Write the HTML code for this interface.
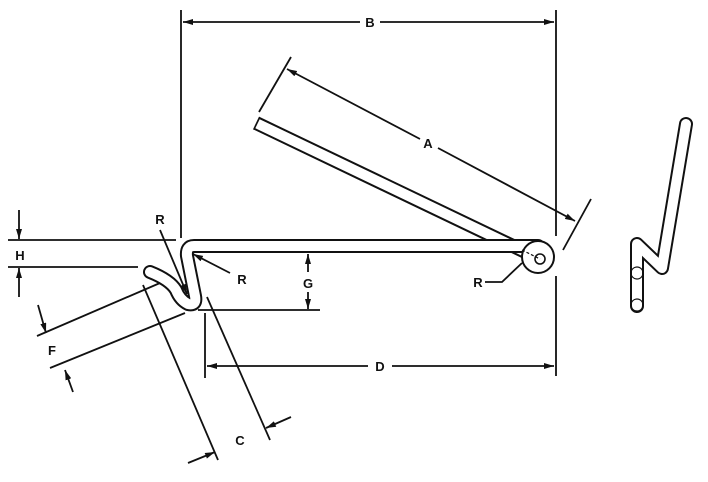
<!DOCTYPE html>
<html><head><style>
html,body{margin:0;padding:0;background:#fff;}
svg{display:block;}
text{font-family:"Liberation Sans",sans-serif;font-weight:bold;font-size:13px;fill:#111;}
</style></head><body>
<svg width="708" height="482" viewBox="0 0 708 482" xmlns="http://www.w3.org/2000/svg">
<defs>
<marker id="ar" markerWidth="10" markerHeight="6" refX="10" refY="3" orient="auto" markerUnits="userSpaceOnUse">
<path d="M0,0 L10,3 L0,6 z" fill="#111"/></marker>
</defs>
<g stroke="#111" stroke-width="1.8" fill="none">
<!-- B -->
<line x1="181" y1="10" x2="181" y2="238"/>
<line x1="556" y1="10" x2="556" y2="236"/>
<line x1="556" y1="276" x2="556" y2="376"/>
<line x1="360" y1="22" x2="183" y2="22" marker-end="url(#ar)"/>
<line x1="380" y1="22" x2="554" y2="22" marker-end="url(#ar)"/>
<!-- A -->
<line x1="291" y1="57" x2="259" y2="112"/>
<line x1="591" y1="199" x2="563" y2="250"/>
<line x1="420" y1="139" x2="287" y2="69" marker-end="url(#ar)"/>
<line x1="438" y1="148" x2="575" y2="221" marker-end="url(#ar)"/>
</g>
<g fill="none" stroke-linecap="round" stroke-linejoin="round">
<path d="M256,123 L538,258" stroke="#111" stroke-width="14" stroke-linecap="butt"/>
<path d="M257.5,123.7 L538,258" stroke="#fff" stroke-width="10" stroke-linecap="butt"/>
<path d="M538,246 H194 Q186,246 187,256 L195,296 Q197,306 188,304 Q180,300 176,290 Q170,280 150,272" stroke="#111" stroke-width="14"/>
<path d="M538,246 H194 Q186,246 187,256 L195,296 Q197,306 188,304 Q180,300 176,290 Q170,280 150,272" stroke="#fff" stroke-width="10"/>
<path d="M686,124 L662,268 L637,244 L637,306" stroke="#111" stroke-width="14"/>
<path d="M686,124 L662,268 L637,244 L637,306" stroke="#fff" stroke-width="10"/>
</g>
<circle cx="538" cy="257" r="16" fill="#fff" stroke="#111" stroke-width="2"/>
<circle cx="540" cy="259" r="5" fill="#fff" stroke="#111" stroke-width="1.6"/>
<line x1="522" y1="250" x2="540" y2="259" stroke="#111" stroke-width="1.2" stroke-dasharray="3,2"/>
<circle cx="637" cy="273" r="6" fill="none" stroke="#111" stroke-width="1.2"/>
<circle cx="637" cy="305" r="6" fill="none" stroke="#111" stroke-width="1.2"/>
<g stroke="#111" stroke-width="1.8" fill="none">
<line x1="8" y1="240" x2="176" y2="240"/>
<line x1="8" y1="267" x2="138" y2="267"/>
<line x1="19" y1="210" x2="19" y2="239" marker-end="url(#ar)"/>
<line x1="19" y1="297" x2="19" y2="268" marker-end="url(#ar)"/>
<line x1="160" y1="230" x2="187" y2="294" marker-end="url(#ar)"/>
<line x1="230" y1="273" x2="193" y2="254" marker-end="url(#ar)"/>
<polyline points="485,282 502,282 522,263"/>
<line x1="198" y1="310" x2="320" y2="310"/>
<line x1="308" y1="272" x2="308" y2="254" marker-end="url(#ar)"/>
<line x1="308" y1="292" x2="308" y2="309" marker-end="url(#ar)"/>
<line x1="37" y1="336" x2="160" y2="283"/>
<line x1="50" y1="368" x2="185" y2="313"/>
<line x1="38" y1="305" x2="46" y2="333" marker-end="url(#ar)"/>
<line x1="73" y1="392" x2="65" y2="370" marker-end="url(#ar)"/>
<line x1="143" y1="285" x2="218" y2="460"/>
<line x1="207" y1="297" x2="270" y2="440"/>
<line x1="188" y1="463" x2="215" y2="452" marker-end="url(#ar)"/>
<line x1="291" y1="417" x2="266" y2="428" marker-end="url(#ar)"/>
<line x1="205" y1="313" x2="205" y2="378"/>
<line x1="368" y1="366" x2="207" y2="366" marker-end="url(#ar)"/>
<line x1="392" y1="366" x2="554" y2="366" marker-end="url(#ar)"/>
</g>
<rect x="360" y="14" width="20" height="16" fill="#fff"/>
<text x="370" y="27" text-anchor="middle">B</text>
<text x="428" y="148" text-anchor="middle">A</text>
<text x="20" y="260" text-anchor="middle">H</text>
<text x="160" y="224" text-anchor="middle">R</text>
<text x="242" y="284" text-anchor="middle">R</text>
<text x="308" y="288" text-anchor="middle">G</text>
<text x="478" y="287" text-anchor="middle">R</text>
<text x="52" y="355" text-anchor="middle">F</text>
<text x="240" y="445" text-anchor="middle">C</text>
<text x="380" y="371" text-anchor="middle">D</text>
</svg>
</body></html>
